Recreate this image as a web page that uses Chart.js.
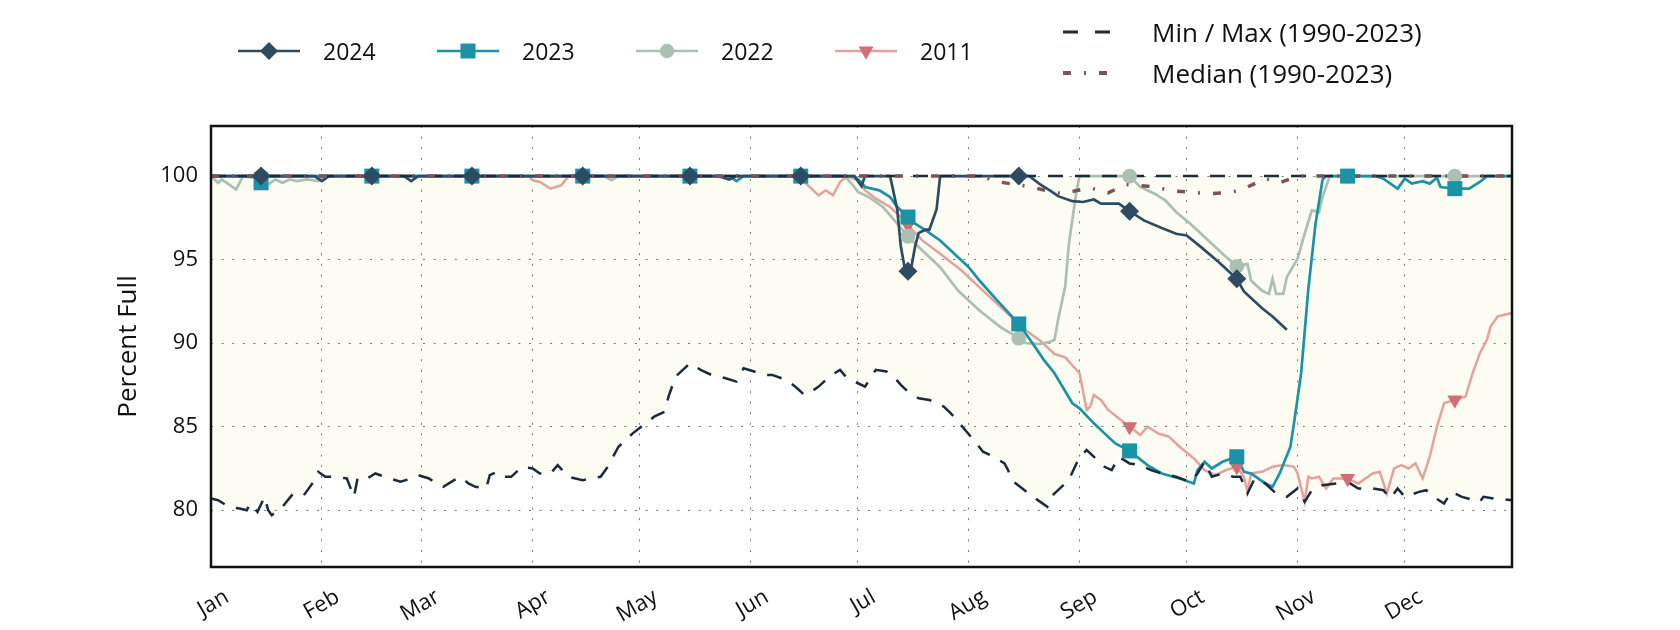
<!DOCTYPE html>
<html>
<head>
<meta charset="utf-8">
<script src="https://cdn.jsdelivr.net/npm/chart.js@4/dist/chart.umd.min.js"></script>
<style>
  body { margin: 0; background: #fff; }
  #wrap { position: relative; width: 1680px; height: 630px; font-family: "Open Sans", sans-serif; color: #111; }
  #chart { position: absolute; left: 0; top: 0; }
  .key { position: absolute; display: flex; align-items: center; height: 30px; white-space: nowrap; }
  .key svg { flex: none; }
</style>
</head>
<body>
<div id="wrap">
  <canvas id="chart" width="1680" height="630"></canvas>

  <div class="key" style="left:238px; top:36px; font-size:23px">
    <svg width="62" height="30"><line x1="0" y1="15" x2="62" y2="15" stroke="#2d4b63" stroke-width="2.5"/><polygon points="31,6 40,15 31,24 22,15" fill="#2d4b63"/></svg>
    <span style="margin-left:23px">2024</span>
  </div>
  <div class="key" style="left:437px; top:36px; font-size:23px">
    <svg width="62" height="30"><line x1="0" y1="15" x2="62" y2="15" stroke="#1993a5" stroke-width="2.5"/><rect x="23.5" y="7.5" width="15" height="15" fill="#1993a5"/></svg>
    <span style="margin-left:23px">2023</span>
  </div>
  <div class="key" style="left:636px; top:36px; font-size:23px">
    <svg width="62" height="30"><line x1="0" y1="15" x2="62" y2="15" stroke="#abbfb2" stroke-width="2.5"/><circle cx="31" cy="15" r="7.2" fill="#abbfb2"/></svg>
    <span style="margin-left:23px">2022</span>
  </div>
  <div class="key" style="left:835px; top:36px; font-size:23px">
    <svg width="62" height="30"><line x1="0" y1="15" x2="62" y2="15" stroke="#e5a29b" stroke-width="2.5"/><polygon points="23.5,10.6 38.5,10.6 31,23.7" fill="#d46e76"/></svg>
    <span style="margin-left:23px">2011</span>
  </div>
  <div class="key" style="left:1063px; top:17px; font-size:26px">
    <svg width="50" height="30"><line x1="0" y1="15" x2="50" y2="15" stroke="#1a2b3c" stroke-width="3" stroke-dasharray="15,17"/></svg>
    <span style="margin-left:39px">Min / Max (1990-2023)</span>
  </div>
  <div class="key" style="left:1063px; top:58px; font-size:26px">
    <svg width="50" height="30"><line x1="0" y1="15" x2="50" y2="15" stroke="#7b5459" stroke-width="4" stroke-dasharray="8,13,2,13"/></svg>
    <span style="margin-left:39px">Median (1990-2023)</span>
  </div>
</div>

<script>
// x values are day of year (0 = Jan 1)
const monthDays = [0, 31, 59, 90, 120, 151, 181, 212, 243, 273, 304, 334];
const monthLabels = ["Jan", "Feb", "Mar", "Apr", "May", "Jun", "Jul", "Aug", "Sep", "Oct", "Nov", "Dec"];
const markerDays = [14, 45, 73, 104, 134, 165, 195, 226, 257, 287, 318, 348];
const yTicks = [80, 85, 90, 95, 100];

const days2024 = [0, 14, 29, 31, 33, 45, 54, 56, 58, 73, 104, 134, 142, 145, 147, 165, 180, 182, 183, 190, 192, 193, 194, 195, 196, 197, 198, 200, 201, 203, 204, 226, 229, 232, 235, 237, 241, 244, 247, 249, 254, 257, 261, 266, 270, 273, 277, 282, 287, 289, 294, 297, 301];
const pct2024 = [100, 100, 100, 99.7, 100, 100, 100, 99.7, 100, 100, 100, 100, 100, 99.8, 100, 100, 100, 99.4, 100, 100, 98.0, 95.8, 94.6, 94.3, 94.6, 95.8, 96.6, 96.8, 96.8, 98.0, 100, 100, 100, 99.5, 99.1, 98.8, 98.5, 98.45, 98.6, 98.35, 98.35, 97.9, 97.35, 96.9, 96.55, 96.45, 95.75, 94.85, 93.85, 93.1, 92.1, 91.6, 90.8];

const days2023 = [0, 12, 14, 16, 45, 73, 104, 134, 145, 147, 149, 165, 180, 182, 183, 187, 190, 192, 195, 197, 200, 204, 207, 212, 215, 220, 226, 230, 233, 236, 241, 243, 247, 250, 253, 257, 262, 266, 271, 275, 276, 278, 280, 283, 287, 289, 291, 295, 297, 299, 302, 303, 305, 307, 309, 311, 312, 318, 326, 328, 332, 334, 336, 339, 341, 343, 344, 348, 352, 355, 357, 364];
const pct2023 = [100, 100, 99.6, 100, 100, 100, 100, 100, 100, 99.7, 100, 100, 100, 99.6, 99.35, 99.15, 98.75, 98.15, 97.55, 97.15, 96.75, 96.15, 95.55, 94.55, 93.75, 92.55, 91.15, 89.95, 89.0, 88.2, 86.4, 86.1, 85.2, 84.6, 84.0, 83.55, 82.7, 82.2, 81.9, 81.6, 82.4, 82.9, 82.5, 82.9, 83.2, 82.3, 82.2, 81.6, 81.4, 82.2, 83.8, 85.2, 88.2, 93.2, 97.1, 99.8, 100, 100, 100, 99.85, 99.25, 99.85, 99.55, 99.7, 99.55, 99.9, 99.35, 99.25, 99.25, 99.65, 100, 100];

const days2022 = [0, 2, 3, 5, 7, 9, 12, 14, 16, 18, 20, 22, 24, 27, 30, 32, 45, 73, 104, 110, 112, 114, 134, 165, 176, 178, 180, 181, 184, 188, 192, 195, 199, 204, 209, 215, 221, 226, 228, 232, 235, 236, 237, 239, 240, 242, 243, 257, 260, 264, 267, 270, 274, 278, 283, 287, 290, 291, 294, 296, 297, 298, 300, 301, 304, 306, 308, 310, 311, 313, 318, 348, 364];
const pct2022 = [100, 99.6, 99.8, 99.5, 99.2, 100, 99.9, 100, 99.5, 99.8, 99.6, 99.8, 99.7, 99.8, 99.7, 100, 100, 100, 100, 100, 99.75, 100, 100, 100, 100, 99.85, 99.35, 99.05, 98.75, 98.15, 97.15, 96.4, 95.55, 94.55, 93.15, 91.95, 90.95, 90.3, 90.0, 89.95, 90.1, 90.2, 91.4, 93.4, 95.9, 98.9, 100, 100, 99.35, 98.95, 98.55, 97.85, 97.15, 96.35, 95.35, 94.6, 94.75, 93.75, 93.15, 92.95, 93.85, 92.95, 92.95, 93.95, 95.05, 96.55, 97.95, 97.85, 98.75, 100, 100, 100, 100];

const days2011 = [0, 14, 45, 73, 89, 90, 92, 95, 98, 100, 104, 134, 165, 166, 168, 170, 172, 174, 176, 178, 181, 183, 186, 190, 193, 195, 199, 204, 210, 216, 222, 228, 232, 236, 239, 243, 245, 246, 247, 249, 251, 257, 260, 262, 265, 268, 271, 275, 278, 281, 284, 287, 289, 290, 291, 294, 297, 300, 303, 304, 306, 307, 308, 310, 312, 314, 318, 321, 325, 327, 329, 331, 333, 335, 337, 339, 341, 343, 345, 348, 351, 353, 355, 357, 358, 360, 364];
const pct2011 = [100, 100, 100, 100, 100, 99.75, 99.65, 99.25, 99.45, 100, 100, 100, 100, 99.65, 99.25, 98.85, 99.15, 98.85, 99.65, 100, 99.75, 99.15, 98.65, 98.15, 97.55, 97.05, 96.15, 95.35, 94.35, 93.15, 91.95, 90.75, 90.15, 89.35, 89.15, 88.2, 86.0, 86.2, 86.9, 86.6, 86.0, 85.0, 84.5, 85.0, 84.6, 84.4, 83.8, 83.1, 82.4, 82.1, 82.4, 82.6, 82.0, 81.1, 82.2, 82.3, 82.6, 82.7, 82.6, 82.2, 80.5, 82.0, 81.9, 82.0, 81.3, 81.9, 81.9, 81.6, 82.2, 82.3, 81.0, 82.5, 82.7, 82.5, 82.8, 81.9, 83.2, 85.0, 86.4, 86.6, 86.8, 88.2, 89.4, 90.2, 91.0, 91.6, 91.8];

const daysMin = [0, 2, 5, 8, 10, 11, 13, 15, 16, 17, 20, 23, 26, 29, 30, 32, 35, 38, 40, 41, 43, 46, 50, 53, 56, 58, 61, 63, 65, 68, 70, 72, 74, 77, 78, 80, 82, 84, 87, 90, 92, 95, 97, 100, 104, 109, 111, 114, 118, 121, 124, 127, 128, 130, 133, 134, 137, 140, 144, 147, 149, 152, 155, 157, 161, 164, 166, 168, 170, 173, 176, 178, 181, 183, 186, 189, 191, 193, 195, 198, 201, 205, 207, 209, 211, 213, 216, 219, 222, 223, 224, 227, 230, 234, 235, 237, 240, 243, 245, 248, 250, 252, 254, 257, 260, 263, 266, 270, 274, 276, 278, 280, 283, 286, 288, 290, 292, 295, 298, 301, 304, 306, 308, 311, 315, 318, 321, 325, 328, 330, 332, 334, 338, 340, 342, 345, 347, 350, 355, 356, 359, 364];
const pctMin = [80.7, 80.6, 80.2, 80.1, 80.0, 80.4, 79.9, 80.8, 80.0, 79.7, 80.2, 81.0, 80.9, 81.8, 82.3, 82.0, 82.0, 81.9, 80.8, 81.9, 81.8, 82.2, 81.9, 81.7, 81.9, 82.1, 81.9, 81.6, 81.4, 81.8, 82.0, 81.6, 81.4, 81.3, 82.1, 82.3, 82.0, 82.0, 82.6, 82.5, 82.2, 82.2, 82.7, 82.0, 81.8, 82.0, 82.6, 83.8, 84.6, 85.1, 85.6, 85.9, 86.8, 88.0, 88.6, 88.8, 88.4, 88.1, 87.9, 87.7, 88.5, 88.3, 88.1, 88.1, 87.8, 87.3, 86.9, 87.1, 87.4, 88.0, 88.4, 87.9, 87.6, 87.4, 88.4, 88.3, 88.0, 87.5, 87.1, 86.7, 86.6, 86.2, 85.8, 85.3, 84.8, 84.3, 83.5, 83.2, 82.8, 82.4, 81.8, 81.3, 80.8, 80.2, 80.8, 81.2, 81.8, 83.2, 83.6, 83.0, 82.6, 82.4, 83.2, 82.8, 82.7, 82.4, 82.2, 82.0, 81.7, 82.2, 82.9, 82.0, 82.2, 82.0, 82.0, 81.0, 81.9, 81.6, 81.0, 80.8, 81.3, 80.5, 81.2, 81.5, 81.6, 81.7, 81.3, 81.3, 81.2, 80.7, 81.3, 80.8, 81.1, 81.2, 80.8, 80.4, 81.1, 80.8, 80.5, 80.8, 80.7, 80.6];

const daysMax = [0, 364];
const pctMax = [100, 100];

const daysMedian = [0, 216, 219, 228, 238, 246, 251, 256, 262, 270, 279, 284, 288, 291, 295, 299, 304, 364];
const pctMedian = [100, 100, 99.7, 99.4, 98.95, 99.3, 99.0, 99.5, 99.4, 99.1, 98.95, 99.0, 99.15, 99.45, 99.85, 99.6, 100, 100];

function pts(days, pct) {
  return days.map((d, i) => ({ x: d, y: pct[i] }));
}
function marks(days, pct) {
  return pts(days, pct).filter((p) => markerDays.includes(p.x));
}

const FONT = "'Open Sans', sans-serif";

function yearLine(days, pct, color, width) {
  return {
    data: pts(days, pct),
    borderColor: color,
    borderWidth: width,
    pointRadius: 0,
    pointHoverRadius: 0,
    fill: false,
    tension: 0,
  };
}
function yearMarks(days, pct, color, style, radius, rotation) {
  return {
    data: marks(days, pct),
    showLine: false,
    pointStyle: style,
    pointRadius: radius,
    pointHoverRadius: radius,
    pointRotation: rotation || 0,
    pointBackgroundColor: color,
    pointBorderWidth: 0,
    borderColor: color,
  };
}

const frame = {
  id: "frame",
  afterDatasetsDraw(chart) {
    const { ctx, chartArea: a } = chart;
    ctx.save();
    ctx.strokeStyle = "#111";
    ctx.lineWidth = 2.5;
    ctx.strokeRect(a.left, a.top, a.right - a.left, a.bottom - a.top);
    ctx.restore();
  },
};

new Chart(document.getElementById("chart"), {
  type: "line",
  data: {
    datasets: [
      yearMarks(days2024, pct2024, "#2d4b63", "rectRot", 9.5),
      yearMarks(days2023, pct2023, "#1993a5", "rect", 10.6),
      yearMarks(days2022, pct2022, "#abbfb2", "circle", 7.4),
      yearMarks(days2011, pct2011, "#d46e76", "triangle", 8.7, 180),
      {
        data: pts(daysMedian, pctMedian),
        borderColor: "#7b5459",
        borderWidth: 3.5,
        borderDash: [8, 13, 2, 13],
        pointRadius: 0,
        fill: false,
      },
      {
        data: pts(daysMax, pctMax),
        borderColor: "#1a2b3c",
        borderWidth: 2.5,
        borderDash: [15, 12],
        pointRadius: 0,
        backgroundColor: "rgb(252,252,242)",
        fill: "+1",
      },
      {
        data: pts(daysMin, pctMin),
        borderColor: "#1a2b3c",
        borderWidth: 2.5,
        borderDash: [15, 12],
        pointRadius: 0,
        fill: false,
      },
      yearLine(days2024, pct2024, "#2d4b63", 2.7),
      yearLine(days2023, pct2023, "#1993a5", 2.7),
      yearLine(days2022, pct2022, "#abbfb2", 2.7),
      yearLine(days2011, pct2011, "#e5a29b", 2.5),
    ],
  },
  options: {
    responsive: false,
    animation: false,
    events: [],
    layout: { padding: { left: 0, right: 168, top: 126, bottom: 0 } },
    plugins: {
      legend: { display: false },
      tooltip: { enabled: false },
      filler: { drawTime: "beforeDraw" },
    },
    scales: {
      x: {
        type: "linear",
        min: 0,
        max: 364,
        afterBuildTicks: (s) => {
          s.ticks = monthDays.map((v) => ({ value: v }));
        },
        afterFit: (s) => {
          s.height = 63;
        },
        grid: { color: "#777", lineWidth: 1, drawTicks: false },
        border: { display: false, dash: [2, 8.6] },
        ticks: {
          autoSkip: false,
          minRotation: 30,
          maxRotation: 30,
          padding: 17,
          labelOffset: 16,
          color: "#111",
          font: { family: FONT, size: 22 },
          callback: (v) => monthLabels[monthDays.indexOf(v)],
        },
      },
      y: {
        min: 76.6,
        max: 103,
        afterBuildTicks: (s) => {
          s.ticks = yTicks.map((v) => ({ value: v }));
        },
        afterFit: (s) => {
          s.width = 211;
        },
        grid: { color: "#777", lineWidth: 1, drawTicks: false },
        border: { display: false, dash: [2, 8.6] },
        ticks: {
          padding: 13,
          color: "#111",
          font: { family: FONT, size: 22 },
        },
        title: {
          display: true,
          text: "Percent Full",
          color: "#111",
          font: { family: FONT, size: 26 },
          padding: { top: 113, bottom: 0 },
        },
      },
    },
  },
  plugins: [frame],
});
</script>
</body>
</html>
